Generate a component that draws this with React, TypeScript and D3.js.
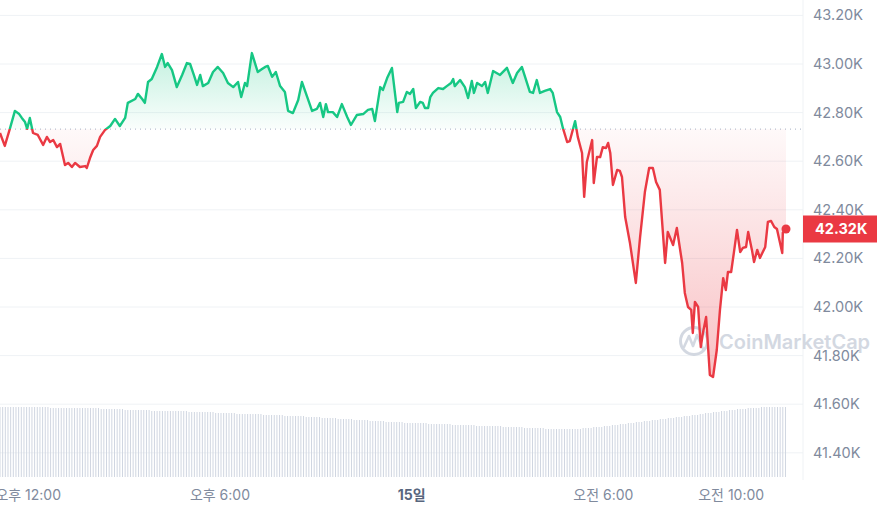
import * as d3 from 'd3';

// BTC price, 1D view (minutes from 11:07 on the 14th)
const minutes = [
  0, 9, 19, 28, 36, 41, 47, 51, 56, 62,
  71, 81, 88, 94, 100, 107, 113, 122, 128, 135,
  141, 150, 160, 163, 169, 175, 182, 188, 197, 207,
  216, 225, 235, 240, 254, 259, 267, 272, 278, 285,
  295, 304, 310, 315, 323, 332, 342, 351, 357, 364,
  370, 376, 381, 391, 400, 409, 419, 428, 438, 447,
  453, 460, 464, 473, 484, 492, 498, 503, 511, 518,
  526, 535, 541, 550, 560, 567, 577, 586, 595, 601,
  607, 612, 616, 625, 633, 642, 652, 659, 670, 682,
  691, 699, 704, 714, 719, 727, 736, 746, 749, 757,
  764, 770, 776, 781, 789, 794, 798, 804, 808, 813,
  823, 832, 839, 847, 851, 854, 864, 873, 879, 886,
  890, 896, 905, 911, 916, 926, 939, 952, 963, 971,
  980, 986, 995, 1001, 1008, 1014, 1023, 1033, 1038, 1046,
  1052, 1057, 1065, 1070, 1080, 1085, 1093, 1097, 1102, 1112,
  1115, 1121, 1127, 1132, 1138, 1142, 1146, 1151, 1159, 1164,
  1168, 1174, 1183, 1194, 1202, 1211, 1219, 1226, 1232, 1239,
  1249, 1254, 1264, 1271, 1281, 1286, 1292, 1298, 1301, 1305,
  1311, 1316, 1320, 1326, 1330, 1333, 1339, 1346, 1352, 1358,
  1363, 1367, 1373, 1378, 1384, 1390, 1395, 1401, 1405, 1412,
  1416, 1422, 1427, 1437, 1442, 1448, 1454, 1459, 1469, 1470, 1476,
];

const prices = [
  42716, 42663, 42737, 42807, 42794, 42778, 42761, 42733, 42778, 42716,
  42708, 42667, 42700, 42679, 42687, 42658, 42671, 42584, 42593, 42576,
  42593, 42576, 42580, 42572, 42613, 42646, 42663, 42700, 42728, 42745,
  42774, 42745, 42778, 42840, 42856, 42877, 42856, 42840, 42926, 42938,
  42988, 43041, 42988, 43004, 42975, 42905, 42955, 43004, 43000, 42955,
  42914, 42955, 42909, 42922, 42967, 42988, 42963, 42922, 42905, 42926,
  42864, 42922, 42909, 43045, 42967, 42979, 42988, 42992, 42947, 42967,
  42909, 42885, 42807, 42798, 42852, 42926, 42864, 42807, 42815, 42840,
  42782, 42835, 42802, 42802, 42782, 42835, 42782, 42749, 42790, 42794,
  42811, 42815, 42765, 42905, 42893, 42942, 42984, 42802, 42840, 42844,
  42885, 42877, 42897, 42819, 42844, 42840, 42819, 42819, 42864, 42881,
  42901, 42897, 42909, 42922, 42938, 42909, 42934, 42905, 42860, 42930,
  42881, 42922, 42909, 42926, 42881, 42971, 42955, 42984, 42922, 42963,
  42988, 42947, 42885, 42881, 42934, 42881, 42889, 42897, 42881, 42802,
  42782, 42737, 42679, 42683, 42765, 42700, 42634, 42453, 42597, 42687,
  42510, 42617, 42617, 42658, 42654, 42675, 42634, 42502, 42564, 42560,
  42535, 42370, 42263, 42099, 42288, 42473, 42572, 42572, 42514, 42482,
  42181, 42309, 42255, 42325, 42181, 42058, 42000, 41988, 41893, 42021,
  42000, 41835, 41893, 41959, 41823, 41720, 41712, 41823, 41988, 42119,
  42070, 42144, 42144, 42222, 42317, 42226, 42243, 42247, 42309, 42235,
  42185, 42235, 42202, 42247, 42350, 42354, 42329, 42321, 42222, 42305, 42321,
];

// 24h volume (billions USD), one bar every 5 minutes
const volumes = [
  21.0, 21.0, 21.0, 21.0, 21.0, 21.0, 21.0, 21.0, 21.0, 21.0, 21.0, 21.0, 21.0, 21.0, 21.0, 21.0, 21.0, 21.0, 21.0,
  20.7, 20.7, 20.7, 20.7, 20.7, 20.7, 20.7, 20.7, 20.7, 20.7, 20.7, 20.7, 20.7, 20.7, 20.7, 20.7, 20.7, 20.7, 20.7,
  20.4, 20.4, 20.4, 20.4, 20.4, 20.4, 20.4, 20.4, 20.4,
  20.1, 20.1, 20.1, 20.1, 20.1, 20.1, 20.1, 20.1, 20.1, 20.1,
  19.8, 19.8, 19.8, 19.8, 19.8, 19.8, 19.8, 19.8, 19.8, 19.8, 19.8, 19.8, 19.8, 19.8,
  19.5, 19.5, 19.5, 19.5, 19.5, 19.5, 19.5, 19.5, 19.5, 19.5,
  19.2, 19.2, 19.2, 19.2, 19.2, 19.2, 19.2, 19.2,
  18.9, 18.9, 18.9, 18.9, 18.9, 18.9, 18.9, 18.9, 18.9, 18.9,
  18.6, 18.6, 18.6, 18.6, 18.6, 18.6, 18.6, 18.6,
  18.3, 18.3, 18.3, 18.3, 18.3, 18.3, 18.3, 18.3,
  18.0, 18.0, 18.0, 18.0, 18.0, 18.0,
  17.7, 17.7, 17.7, 17.7, 17.7, 17.7,
  17.4, 17.4, 17.4, 17.4, 17.4, 17.4,
  17.1, 17.1, 17.1, 17.1, 17.1, 17.1,
  16.8, 16.8, 16.8, 16.8, 16.8, 16.8,
  16.5, 16.5, 16.5, 16.5, 16.5, 16.5, 16.5,
  16.2, 16.2, 16.2, 16.2, 16.2, 16.2, 16.2, 16.2, 16.2,
  15.9, 15.9, 15.9, 15.9, 15.9, 15.9, 15.9, 15.9, 15.9,
  15.6, 15.6, 15.6, 15.6, 15.6, 15.6, 15.6, 15.6, 15.6,
  15.3, 15.3, 15.3, 15.3, 15.3, 15.3, 15.3, 15.3, 15.3, 15.3,
  15.0, 15.0, 15.0, 15.0, 15.0, 15.0, 15.0, 15.0,
  14.7, 14.7, 14.7, 14.7, 14.7, 14.7, 14.7, 14.7,
  14.4, 14.4, 14.4, 14.4, 14.4, 14.4, 14.4, 14.4, 14.4, 14.4, 14.4, 14.4, 14.4, 14.4,
  14.7, 14.7, 14.7, 14.7,
  15.0, 15.0, 15.0, 15.0,
  15.3, 15.3, 15.3, 15.6, 15.6, 15.6, 15.9, 15.9, 15.9, 16.2, 16.2, 16.2,
  16.5, 16.5, 16.5, 16.8, 16.8, 16.8, 17.1, 17.1, 17.1, 17.4, 17.4, 17.4,
  17.7, 17.7, 17.7, 18.0, 18.0, 18.0, 18.3, 18.3, 18.3, 18.6, 18.6, 18.6,
  18.9, 18.9, 19.2, 19.2, 19.2, 19.5, 19.5, 19.5, 19.8, 19.8, 19.8,
  20.1, 20.1, 20.1, 20.4, 20.4, 20.4, 20.4, 20.7, 20.7, 20.7, 20.7, 20.7,
  21.0, 21.0, 21.0, 21.0, 21.0, 21.0, 21.0, 21.0, 21.0, 21.0,
];

const openPrice = 42732;
const priceTicks = [41400, 41600, 41800, 42000, 42200, 42400, 42600, 42800, 43000, 43200];
const timeTicks = [
  { h: 12, d: 14, label: '오후 12:00', bold: false },
  { h: 18, d: 14, label: '오후 6:00', bold: false },
  { h: 0, d: 15, label: '15일', bold: true },
  { h: 6, d: 15, label: '오전 6:00', bold: false },
  { h: 10, d: 15, label: '오전 10:00', bold: false },
];

const W = 877;
const H = 513;
const GREEN = '#16c784';
const RED = '#ea3943';
const FONT = 'Inter, "Noto Sans CJK KR", sans-serif';

const start = new Date(2024, 0, 14, 11, 7);
const at = (m: number) => new Date(start.getTime() + m * 60000);

export default function App() {
  const x = d3.scaleTime().domain([start, at(1476)]).range([0, 786]);
  const y = d3.scaleLinear().domain([41400, 43200]).range([452.8, 15.4]);
  const vy = d3.scaleLinear().domain([0, 21]).range([477, 407]);

  const pts = minutes.map((m, i) => ({ t: at(m), p: prices[i] }));
  const yBase = y(openPrice);
  const axisRight = 803;

  const line = d3.line<{ t: Date; p: number }>()
    .x(d => x(d.t))
    .y(d => y(d.p));
  const area = d3.area<{ t: Date; p: number }>()
    .x(d => x(d.t))
    .y0(yBase)
    .y1(d => y(d.p));

  const last = pts[pts.length - 1];
  const lastY = y(last.p);
  const fmt = (v: number) => (v / 1000).toFixed(2) + 'K';

  return (
    <svg width={W} height={H} style={{ position: 'absolute', left: 0, top: 0, background: '#fff' }}>
      <defs>
        <clipPath id="above"><rect x={0} y={0} width={W} height={yBase} /></clipPath>
        <clipPath id="below"><rect x={0} y={yBase} width={W} height={H - yBase} /></clipPath>
        <linearGradient id="gFill" gradientUnits="userSpaceOnUse" x1={0} x2={0} y1={y(43050)} y2={yBase}>
          <stop offset="0" stopColor={GREEN} stopOpacity={0.26} />
          <stop offset="1" stopColor={GREEN} stopOpacity={0.02} />
        </linearGradient>
        <linearGradient id="rFill" gradientUnits="userSpaceOnUse" x1={0} x2={0} y1={yBase} y2={y(41700)}>
          <stop offset="0" stopColor={RED} stopOpacity={0.03} />
          <stop offset="1" stopColor={RED} stopOpacity={0.32} />
        </linearGradient>
      </defs>

      {/* grid */}
      {priceTicks.map(t => (
        <line key={t} x1={0} x2={axisRight} y1={y(t)} y2={y(t)} stroke="#eff2f5" strokeWidth={1} />
      ))}
      <line x1={axisRight} x2={axisRight} y1={0} y2={480} stroke="#eff2f5" strokeWidth={1} />

      {/* volume */}
      {volumes.map((v, i) => (
        <rect key={i} x={x(at(i * 5)) - 0.5} y={vy(v)} width={1} height={vy(0) - vy(v)} fill="#d0d6e1" />
      ))}

      {/* fills */}
      <path d={area(pts) ?? ''} fill="url(#gFill)" clipPath="url(#above)" />
      <path d={area(pts) ?? ''} fill="url(#rFill)" clipPath="url(#below)" />

      {/* baseline */}
      <line x1={0} x2={axisRight} y1={yBase} y2={yBase} stroke="#a6b0c3" strokeWidth={1} strokeDasharray="1 4" />

      {/* watermark */}
      <g opacity={0.75}>
        <circle cx={694} cy={341} r={13.5} fill="none" stroke="#c5ccd8" strokeWidth={3} />
        <path d="M684,347 L689,336 L693,346 L697,335 L703,349" fill="none" stroke="#c5ccd8" strokeWidth={2.6} strokeLinejoin="round" strokeLinecap="round" />
        <text x={719} y={349} fontFamily={FONT} fontSize={20} fontWeight={600} fill="#c5ccd8">CoinMarketCap</text>
      </g>

      {/* line */}
      <path d={line(pts) ?? ''} fill="none" stroke={GREEN} strokeWidth={2.4} strokeLinejoin="round" clipPath="url(#above)" />
      <path d={line(pts) ?? ''} fill="none" stroke={RED} strokeWidth={2.4} strokeLinejoin="round" clipPath="url(#below)" />
      <circle cx={x(last.t)} cy={lastY} r={4.5} fill={RED} />

      {/* y labels */}
      {priceTicks.map(t => (
        <text key={t} x={813} y={y(t)} dy="0.35em" fontFamily={FONT} fontSize={14.5} fill="#808a9d">{fmt(t)}</text>
      ))}
      <rect x={axisRight} y={lastY - 13.5} width={W - axisRight} height={27} fill={RED} />
      <text x={815} y={lastY} dy="0.36em" fontFamily={FONT} fontSize={14.5} fontWeight={700} fill="#fff">{fmt(last.p)}</text>

      {/* x labels */}
      {timeTicks.map(t => (
        <text
          key={t.label}
          x={x(new Date(2024, 0, t.d, t.h, 0))}
          y={500}
          textAnchor="middle"
          fontFamily={FONT}
          fontSize={14}
          fontWeight={t.bold ? 700 : 400}
          fill={t.bold ? '#58667e' : '#808a9d'}
        >
          {t.label}
        </text>
      ))}
    </svg>
  );
}
